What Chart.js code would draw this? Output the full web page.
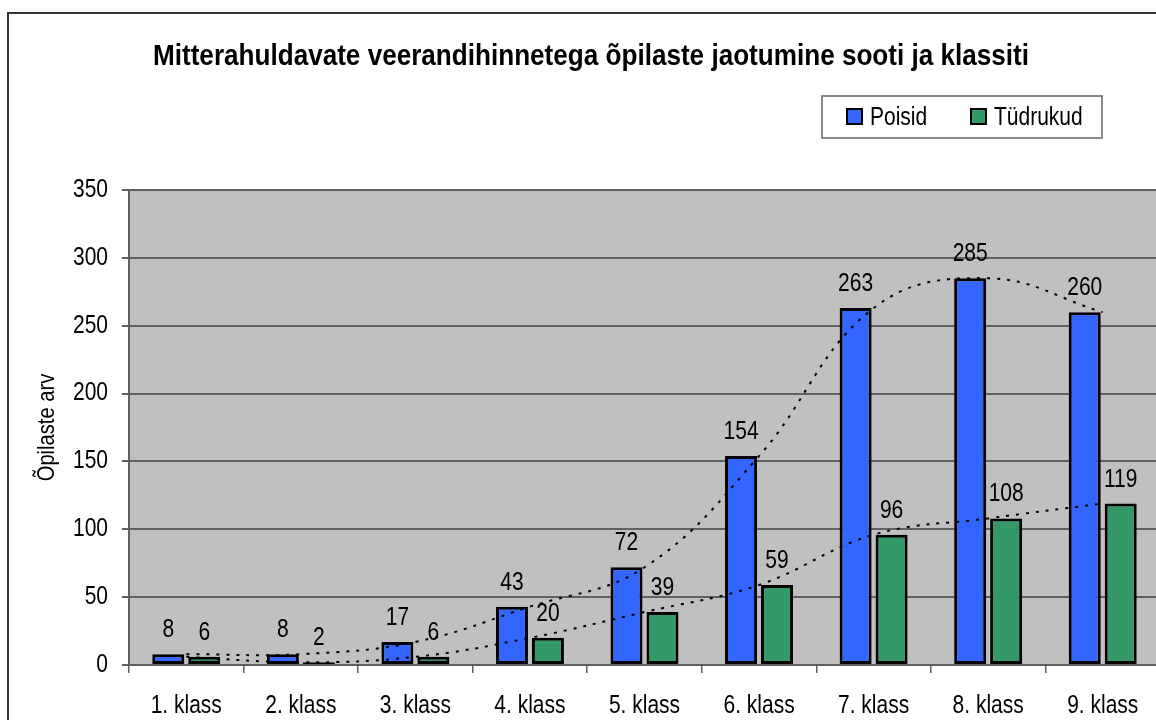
<!DOCTYPE html>
<html lang="et">
<head>
    <meta charset="UTF-8">
    <title>Mitterahuldavate veerandihinnetega õpilased</title>
    <script src="https://cdn.jsdelivr.net/npm/chart.js"></script>
    <style>
        html, body {
            margin: 0;
            padding: 0;
            background: #ffffff;
            overflow: hidden;
        }
        #frame {
            position: absolute;
            left: 7px;
            top: 12px;
            width: 1200px;
            height: 800px;
            border: 2px solid #333;
        }
        #wrap {
            position: absolute;
            left: 0;
            top: 0;
            width: 1162px;
            height: 740px;
        }
    </style>
</head>
<body>
    <div id="frame"></div>
    <div id="wrap"><canvas id="chart" width="1162" height="740"></canvas></div>

    <script>
        const FONT = "'Liberation Sans', Arial, sans-serif";
        const NARROW = 0.84;   // the original text is a narrow face, squeeze it sideways

        const chartTitle = 'Mitterahuldavate veerandihinnetega õpilaste jaotumine sooti ja klassiti';
        const yTitle = 'Õpilaste arv';
        const categories = ['1. klass', '2. klass', '3. klass', '4. klass', '5. klass', '6. klass', '7. klass', '8. klass', '9. klass'];
        const poisid = [8, 8, 17, 43, 72, 154, 263, 285, 260];
        const tydrukud = [6, 2, 6, 20, 39, 59, 96, 108, 119];
        const yTicks = [0, 50, 100, 150, 200, 250, 300, 350];

        // draw a squeezed text at x,y
        function narrowText(ctx, text, x, y, font, align, baseline, sx, rot) {
            ctx.save();
            ctx.translate(x, y);
            if (rot) ctx.rotate(rot);
            ctx.scale(sx, 1);
            ctx.font = font;
            ctx.textAlign = align;
            ctx.textBaseline = baseline;
            ctx.fillStyle = '#000';
            ctx.fillText(text, 0, 0);
            ctx.restore();
        }

        // grey plot area
        const plotBg = {
            id: 'plotBg',
            beforeDraw(chart) {
                const a = chart.chartArea;
                const ctx = chart.ctx;
                ctx.save();
                ctx.fillStyle = '#c0c0c0';
                ctx.fillRect(a.left, a.top, a.right - a.left, a.bottom - a.top);
                ctx.restore();
            }
        };

        // axis labels, using the chart's own scales for positions
        const axisText = {
            id: 'axisText',
            afterDraw(chart) {
                const ctx = chart.ctx;
                const xs = chart.scales.x, ys = chart.scales.y;
                categories.forEach((c, i) => {
                    narrowText(ctx, c, xs.getPixelForTick(i), 713, '25px ' + FONT, 'center', 'alphabetic', NARROW);
                });
                yTicks.forEach(v => {
                    narrowText(ctx, String(v), 108, ys.getPixelForValue(v), '25px ' + FONT, 'right', 'middle', NARROW);
                });
                const a = chart.chartArea;
                narrowText(ctx, yTitle, 47, (a.top + a.bottom) / 2, '24px ' + FONT, 'center', 'middle', NARROW, -Math.PI / 2);
            }
        };

        // numbers above the bars
        const valueLabels = {
            id: 'valueLabels',
            afterDatasetsDraw(chart) {
                const ctx = chart.ctx;
                chart.data.datasets.forEach((ds, i) => {
                    if (ds.type !== 'bar') return;
                    chart.getDatasetMeta(i).data.forEach((bar, j) => {
                        narrowText(ctx, String(ds.data[j]), bar.x, bar.y - 17, '25px ' + FONT, 'center', 'alphabetic', NARROW);
                    });
                });
            }
        };

        // title + boxed legend
        const header = {
            id: 'header',
            afterDraw(chart) {
                const ctx = chart.ctx;
                narrowText(ctx, chartTitle, 591, 57, 'bold 29px ' + FONT, 'center', 'middle', 0.9);

                ctx.save();
                ctx.fillStyle = '#fff';
                ctx.fillRect(822, 96, 280, 42);
                ctx.strokeStyle = '#666';
                ctx.lineWidth = 1.5;
                ctx.strokeRect(822, 96, 280, 42);
                ctx.restore();

                const items = chart.data.datasets.filter(d => d.type === 'bar');
                const xs = [847, 971];
                items.forEach((d, i) => {
                    ctx.save();
                    ctx.fillStyle = d.backgroundColor;
                    ctx.fillRect(xs[i], 109, 15, 15);
                    ctx.strokeStyle = '#000';
                    ctx.lineWidth = 2;
                    ctx.strokeRect(xs[i], 109, 15, 15);
                    ctx.restore();
                    narrowText(ctx, d.label, xs[i] + 23, 125, '25px ' + FONT, 'left', 'alphabetic', NARROW);
                });
            }
        };

        new Chart(document.getElementById('chart'), {
            data: {
                labels: categories,
                datasets: [
                    {
                        type: 'bar',
                        label: 'Poisid',
                        data: poisid,
                        backgroundColor: '#3366ff',
                        borderColor: '#000',
                        borderWidth: 3,
                        borderSkipped: false,
                        categoryPercentage: 0.628,
                        barPercentage: 0.89,
                        order: 1
                    },
                    {
                        type: 'bar',
                        label: 'Tüdrukud',
                        data: tydrukud,
                        backgroundColor: '#339966',
                        borderColor: '#000',
                        borderWidth: 3,
                        borderSkipped: false,
                        categoryPercentage: 0.628,
                        barPercentage: 0.89,
                        order: 1
                    },
                    {
                        type: 'line',
                        label: 'Poisid trend',
                        data: poisid,
                        borderColor: '#000',
                        borderWidth: 2,
                        borderDash: [3, 7],
                        tension: 0.4,
                        pointRadius: 0,
                        fill: false,
                        order: 0
                    },
                    {
                        type: 'line',
                        label: 'Tüdrukud trend',
                        data: tydrukud,
                        borderColor: '#000',
                        borderWidth: 2,
                        borderDash: [3, 7],
                        tension: 0.4,
                        pointRadius: 0,
                        fill: false,
                        order: 0
                    }
                ]
            },
            options: {
                responsive: false,
                animation: false,
                layout: { padding: { top: 190, right: 2, bottom: 20, left: 0 } },
                plugins: {
                    legend: { display: false },
                    title: { display: false },
                    tooltip: { enabled: false }
                },
                scales: {
                    x: {
                        offset: true,
                        grid: {
                            offset: true,
                            drawOnChartArea: false,
                            tickLength: 8,
                            color: '#606060',
                            lineWidth: 1.5
                        },
                        border: { color: '#606060', width: 2 },
                        ticks: { display: false },
                        afterFit(scale) { scale.height = 55; }
                    },
                    y: {
                        min: yTicks[0],
                        max: yTicks[yTicks.length - 1],
                        grid: {
                            color: '#606060',
                            lineWidth: 2,
                            tickLength: 7
                        },
                        border: { color: '#606060', width: 2 },
                        ticks: { stepSize: yTicks[1] - yTicks[0], display: false },
                        afterFit(scale) { scale.width = 129; }
                    }
                }
            },
            plugins: [plotBg, axisText, valueLabels, header]
        });
    </script>
</body>
</html>
